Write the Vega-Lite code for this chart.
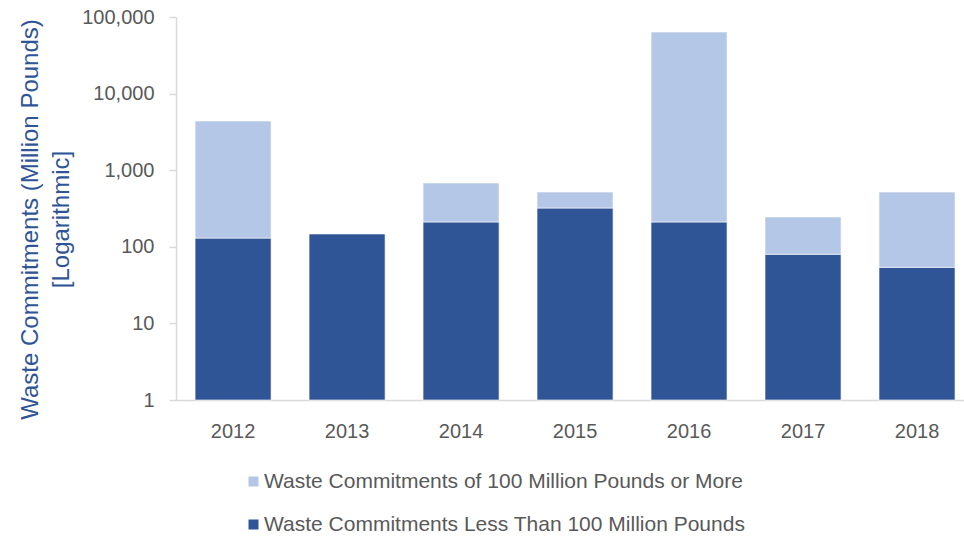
{
  "$schema": "https://vega.github.io/schema/vega-lite/v6.json",
  "width": 788,
  "height": 383,
  "autosize": "none",
  "padding": {"left": 176, "top": 17, "right": 0, "bottom": 137},
  "background": "white",
  "config": {"view": {"stroke": null}, "font": "Liberation Sans"},
  "data": {
    "values": [
      {"year": "2012", "less": 130, "total": 4390},
      {"year": "2013", "less": 147, "total": null},
      {"year": "2014", "less": 211, "total": 681},
      {"year": "2015", "less": 321, "total": 519},
      {"year": "2016", "less": 211, "total": 63700},
      {"year": "2017", "less": 80, "total": 245},
      {"year": "2018", "less": 54, "total": 519}
    ]
  },
  "encoding": {
    "x": {
      "field": "year",
      "type": "ordinal",
      "scale": {"paddingInner": 0.333, "paddingOuter": 0.123, "align": 0.68},
      "axis": {
        "title": null,
        "labelAngle": 0,
        "ticks": false,
        "domainColor": "#d9d9d9",
        "domainWidth": 1.5,
        "labelFontSize": 20,
        "labelColor": "#595959",
        "labelPadding": 21
      }
    }
  },
  "layer": [
    {
      "mark": {"type": "bar", "stroke": "white", "strokeWidth": 1, "strokeOpacity": 0.6},
      "encoding": {
        "y": {
          "field": "less",
          "type": "quantitative",
          "scale": {"type": "log", "domain": [1, 100000]},
          "axis": {
            "values": [1, 10, 100, 1000, 10000, 100000],
            "format": ",",
            "grid": false,
            "domainColor": "#d9d9d9",
            "domainWidth": 1.5,
            "tickColor": "#d9d9d9",
            "tickWidth": 1.5,
            "tickSize": 7,
            "labelFontSize": 20,
            "labelColor": "#595959",
            "labelPadding": 15,
            "title": ["Waste Commitments (Million Pounds)", "[Logarithmic]"],
            "titleColor": "#2F5597",
            "titleFontSize": 24,
            "titleFontWeight": "normal",
            "titleLineHeight": 31,
            "titleAngle": -90,
            "titleX": -139,
            "titleY": 202,
            "titleAlign": "center",
            "titleBaseline": "alphabetic",
            "titleLimit": 0
          }
        },
        "y2": {"datum": 1},
        "color": {
          "datum": "Waste Commitments Less Than 100 Million Pounds",
          "type": "nominal",
          "scale": {
            "domain": ["Waste Commitments of 100 Million Pounds or More", "Waste Commitments Less Than 100 Million Pounds"],
            "range": ["#B4C7E7", "#2F5597"]
          },
          "legend": {
            "title": null,
            "orient": "none",
            "legendX": 67,
            "legendY": 454,
            "direction": "vertical",
            "symbolType": "square",
            "symbolSize": 100,
            "symbolStrokeWidth": 0,
            "labelFontSize": 21,
            "labelLimit": 0,
            "labelColor": "#595959",
            "labelOffset": 0,
            "rowPadding": 21,
            "padding": 0
          }
        }
      }
    },
    {
      "mark": {"type": "bar", "stroke": "white", "strokeWidth": 1, "strokeOpacity": 0.6},
      "encoding": {
        "y": {"field": "total", "type": "quantitative"},
        "y2": {"field": "less"},
        "color": {"datum": "Waste Commitments of 100 Million Pounds or More", "type": "nominal"}
      }
    }
  ]
}
